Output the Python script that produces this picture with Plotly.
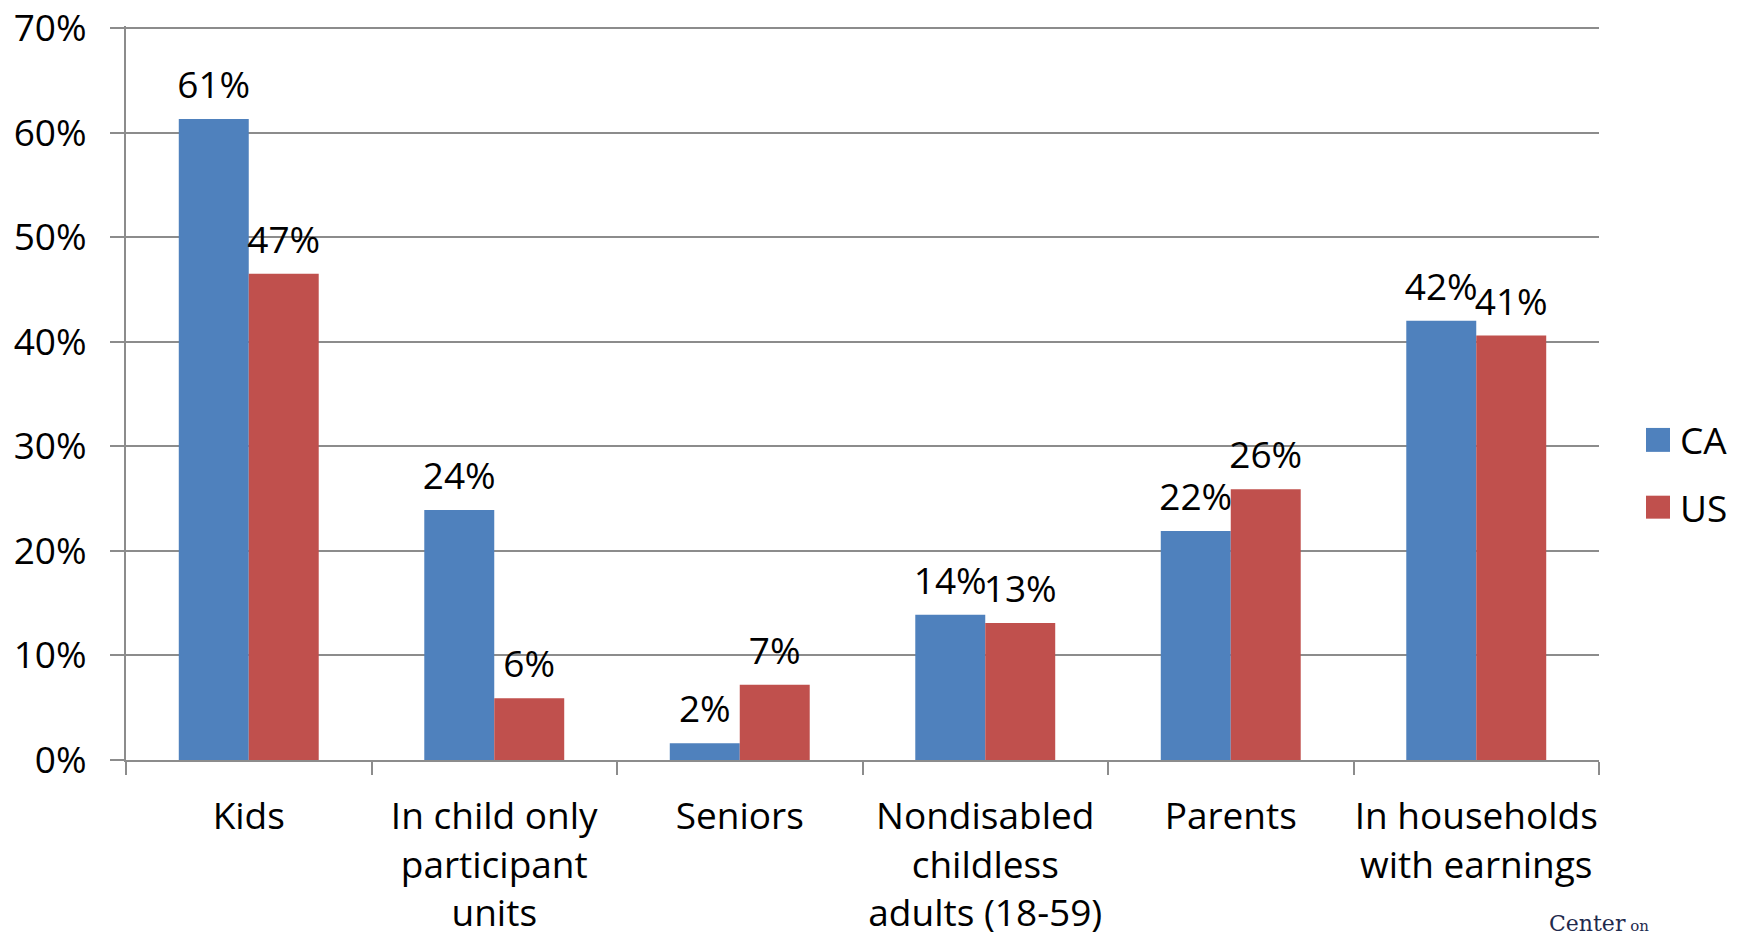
import plotly.graph_objects as go

# Share of participants by group, California vs. United States (percent)
categories = [
    "Kids",
    "In child only<br>participant<br>units",
    "Seniors",
    "Nondisabled<br>childless<br>adults (18-59)",
    "Parents",
    "In households<br>with earnings",
]
ca_values = [61.3, 23.9, 1.6, 13.9, 21.9, 42.0]
us_values = [46.5, 5.9, 7.2, 13.1, 25.9, 40.6]
series_names = ["CA", "US"]
series_colors = ["#4F81BD", "#C0504D"]
y_ticks = [0, 10, 20, 30, 40, 50, 60, 70]
y_tick_text = ["0%", "10%", "20%", "30%", "40%", "50%", "60%", "70%"]

FONT = "Open Sans"
FONT_SIZE = 37
GRID = "#8c8c8c"
GAP = 0.43

fig = go.Figure()
for name, vals, color in zip(series_names, [ca_values, us_values], series_colors):
    fig.add_trace(go.Bar(
        x=categories,
        y=vals,
        name=name,
        offsetgroup=name,
        marker=dict(color=color, line=dict(width=0)),
        showlegend=False,
        hovertemplate="%{y:.1f}%<extra>" + name + "</extra>",
    ))
# Value labels sitting above each bar, grouped the same way as the bars
for name, vals in zip(series_names, [ca_values, us_values]):
    fig.add_trace(go.Scatter(
        x=categories,
        y=vals,
        offsetgroup=name,
        mode="markers+text",
        marker=dict(size=17, opacity=0),
        texttemplate="%{y:.0f}%",
        textposition="top center",
        textfont=dict(family=FONT, size=FONT_SIZE, color="black"),
        cliponaxis=False,
        showlegend=False,
        hoverinfo="skip",
    ))

# Legend keys drawn as squares with labels to the right of the plot
legend_rows = [(0.4198, 0.4524), (0.3288, 0.3601)]
for (y0, y1), name, color in zip(legend_rows, series_names, series_colors):
    fig.add_shape(type="rect", xref="paper", yref="paper",
                  x0=1.0319, x1=1.0482, y0=y0, y1=y1,
                  fillcolor=color, line=dict(width=0))
    fig.add_annotation(xref="paper", yref="paper", x=1.0536, y=(y0 + y1) / 2,
                       xanchor="left", yanchor="middle", text=name, showarrow=False,
                       font=dict(family=FONT, size=FONT_SIZE, color="black"))

# Logo text at the lower right corner
fig.add_annotation(xref="paper", yref="paper", x=0.9647, y=-0.2425,
                   xanchor="left", yanchor="bottom", showarrow=False,
                   text="Center<span style='font-size:15px'> on</span>",
                   font=dict(family="DejaVu Serif", size=22, color="#1f2a4d"))

fig.update_layout(
    width=1745,
    height=939,
    margin=dict(l=126, r=146, t=26, b=179, autoexpand=False),
    paper_bgcolor="white",
    plot_bgcolor="white",
    barmode="group",
    bargap=GAP,
    bargroupgap=0,
    scattermode="group",
    scattergap=GAP,
    font=dict(family=FONT, size=FONT_SIZE, color="black"),
    xaxis=dict(
        type="category",
        automargin=False,
        tickangle=0,
        showgrid=False,
        showline=True,
        linecolor=GRID,
        linewidth=2,
        ticks="outside",
        tickson="boundaries",
        ticklen=13,
        tickwidth=2,
        tickcolor=GRID,
        ticklabelstandoff=23,
        tickfont=dict(family=FONT, size=FONT_SIZE, color="black"),
    ),
    yaxis=dict(
        automargin=False,
        range=[0, 70.19],
        tickmode="array",
        tickvals=y_ticks,
        ticktext=y_tick_text,
        ticklabeloverflow="allow",
        showgrid=True,
        gridcolor=GRID,
        gridwidth=2,
        zeroline=False,
        showline=True,
        linecolor=GRID,
        linewidth=2,
        ticks="outside",
        ticklen=14,
        tickwidth=2,
        tickcolor=GRID,
        ticklabelstandoff=16,
        tickfont=dict(family=FONT, size=FONT_SIZE, color="black"),
    ),
)

fig.write_html("out.html")
